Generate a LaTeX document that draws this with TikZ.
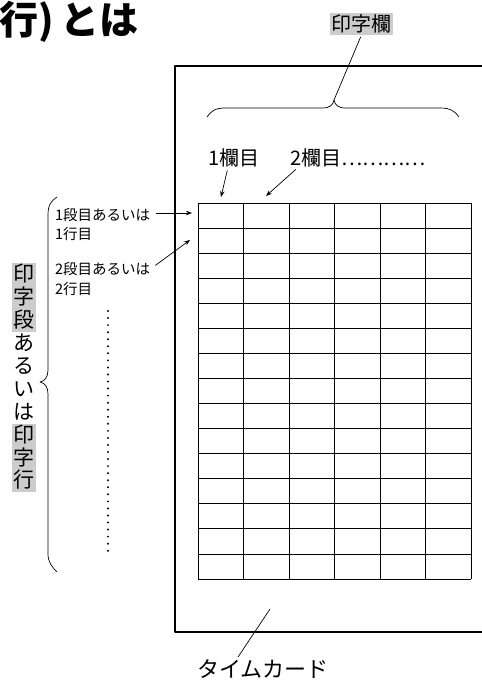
\documentclass[tikz,border=0pt]{standalone}
\usepackage{fontspec}
\setmainfont{Noto Sans CJK JP}
\usetikzlibrary{arrows.meta}
\begin{document}
\begin{tikzpicture}[x=1pt,y=-1pt,line join=round,
  lbl/.style={inner sep=0pt,font=\fontsize{14.5}{19.5}\selectfont,anchor=west},
  collbl/.style={inner sep=0pt,font=\fontsize{20}{20}\selectfont,anchor=west},
  arr/.style={-{Stealth[length=6pt,width=4.5pt]},line width=0.7pt},
  thinln/.style={line width=0.7pt},
  gridln/.style={line width=0.8pt},
  hl/.style={fill=black!20}]
\useasboundingbox (0,0) rectangle (482,681);
\clip (0,0) rectangle (482,681);

% title
\node[anchor=west,inner sep=0pt,font=\bfseries\fontsize{39}{39}\selectfont] (title) at (-1,22) {行)\hspace{7pt}とは};

% card
\draw[line width=1.2pt] (175,66) rectangle (495,632);

% grid
\foreach \i in {0,...,6} \draw[gridln] (198+45.5*\i,203) -- (198+45.5*\i,579);
\foreach \j in {0,...,15} \draw[gridln] (198,203+25.067*\j) -- (471,203+25.067*\j);

% 印字欄
\node[hl,inner sep=1.5pt,font=\fontsize{20}{20}\selectfont] (inji) at (361.5,24) {印字欄};
\coordinate (btip) at (334,100);
\draw[thinln,shorten <=2pt] (inji.south) -- (btip);
\draw[thinln] (207,117) .. controls (212,110) and (216,108) .. (226,108) -- (322,108)
  .. controls (330,108) and (333,105) .. (btip)
  .. controls (335,105) and (338,108) .. (346,108) -- (440,108)
  .. controls (450,108) and (455,111) .. (459,117);

% column labels
\node[collbl] (c1) at (208,158) {1欄目};
\node[collbl] (c2) at (290,158) {2欄目…………};
\coordinate (c1t) at (221,197);
\coordinate (c2t) at (266,196);
\draw[arr,shorten <=3pt] ([xshift=20pt]c1.south west) -- (c1t);
\draw[arr,shorten <=3pt] ([xshift=8pt]c2.south west) -- (c2t);

% row labels
\node[lbl] (l1a) at (55,215) {1段目あるいは};
\node[lbl] (l1b) at (55,234) {1行目};
\node[lbl] (l2a) at (55,269) {2段目あるいは};
\node[lbl] (l2b) at (55,289) {2行目};
\coordinate (r1) at (192,213);
\coordinate (r2) at (190,240);
\draw[arr,shorten <=6pt] (l1a.east |- r1) -- (r1);
\draw[arr,shorten <=6pt] (l2a.east) -- (r2);

% dotted
\draw[line width=2.2pt,dash pattern=on 0pt off 7.05pt,line cap=round] (108,311) -- (108,553);

% left brace
\coordinate (ltip) at (40,382);
\draw[thinln] (57,197) .. controls (51,201) and (48,205) .. (48,215) -- (48,370)
  .. controls (48,377) and (45,381) .. (ltip)
  .. controls (45,383) and (48,387) .. (48,394) -- (48,554)
  .. controls (48,562) and (52,567) .. (57,572);

% vertical text
\fill[black!20] (12,263) rectangle (36,332);
\fill[black!20] (12,424) rectangle (36,492);
\node[anchor=north,inner sep=0pt,align=center,font=\fontsize{21}{22.9}\selectfont] (vt) at (24,264)
  {印\\字\\段\\あ\\る\\い\\は\\印\\字\\行};

% timecard
\node[anchor=west,inner sep=0pt,font=\fontsize{22}{22}\selectfont] (tc) at (197,669) {タイムカード};
\coordinate (tcA) at (270,609);
\coordinate (tcB) at (238,657);
\draw[thinln] (tcA) -- (tcB);
\end{tikzpicture}
\end{document}
